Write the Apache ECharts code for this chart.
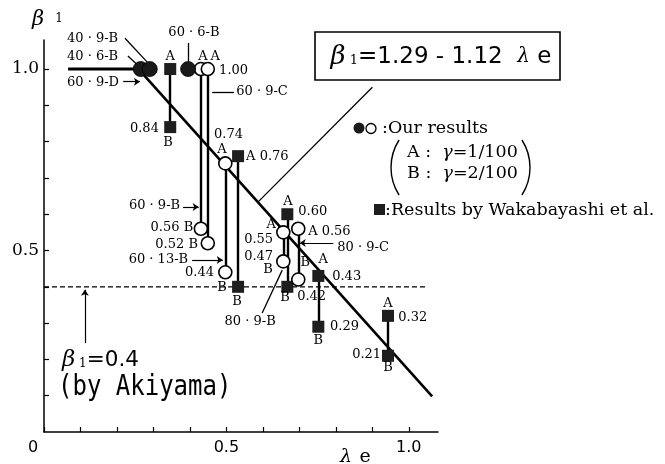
<!DOCTYPE html>
<html><head><meta charset="utf-8">
<script src="https://cdn.jsdelivr.net/npm/echarts@6/dist/echarts.min.js"></script>
<style>html,body{margin:0;padding:0;background:#fff}#c{width:665px;height:464px}</style>
</head><body><div id="c"></div>
<script>
const SERIF = '"DejaVu Serif", serif';
const SANS = '"DejaVu Sans", sans-serif';
const MONO = '"DejaVu Sans Mono", monospace';

// Axis ticks and labels
const xTickValues = [0, 0.1, 0.2, 0.3, 0.4, 0.5, 0.6, 0.7, 0.8, 0.9, 1.0];
const yTickValues = [0.1, 0.2, 0.3, 0.4, 0.5, 0.6, 0.7, 0.8, 0.9, 1.0];
const xLabelValues = [0, 0.5, 1.0];
const xLabelTexts = ['{z|0}', '0.5', '1.0'];
const yLabelValues = [0.5, 1.0];
const yLabelTexts = ['0.5', '1.0'];

// Our results, filled circles (40·9-B, 40·6-B, 60·6-B)
const filledLambda = [0.265, 0.29, 0.395];
const filledBeta = [1.00, 1.00, 1.00];

// Our results, open circles: A (γ=1/100) and B (γ=2/100)
// 60·9-B, 60·9-C, 60·13-B, 80·9-B, 80·9-C
const openLambda = [0.43, 0.449, 0.497, 0.656, 0.697];
const openBetaA = [1.00, 1.00, 0.74, 0.55, 0.56];
const openBetaB = [0.56, 0.52, 0.44, 0.47, 0.42];

// Results by Wakabayashi et al.: A and B
const wakaLambda = [0.346, 0.532, 0.667, 0.752, 0.943];
const wakaBetaA = [1.00, 0.76, 0.60, 0.43, 0.32];
const wakaBetaB = [0.84, 0.40, 0.40, 0.29, 0.21];

// Fitted line β1 = 1.29 - 1.12 λe
const fitIntercept = 1.29;
const fitSlope = -1.12;
const fitLambdaRange = [0.25, 1.064];

// Akiyama's value β1 = 0.4
const akiyamaBeta = 0.4;
const akiyamaRange = [0, 1.045];

// Thick segment at β1 = 1.0 (60·9-D)
const flatBeta = 1.0;
const flatRange = [0.066, 0.265];

// Leader lines for the specimen names
const plainLeaders = [
  [[0.222, 1.085], [0.283, 1.019]],
  [[0.230, 1.036], [0.258, 1.010]],
  [[0.395, 1.072], [0.395, 1.021]],
  [[0.461, 0.937], [0.521, 0.937]],
  [[0.598, 0.328], [0.653, 0.446]],
  [[0.587, 0.634], [0.900, 0.950]]
];
const arrowLeaders = [
  [[0.217, 0.965], [0.263, 0.965]],
  [[0.381, 0.620], [0.424, 0.620]],
  [[0.406, 0.474], [0.490, 0.474]],
  [[0.793, 0.521], [0.701, 0.521]],
  [[0.112, 0.245], [0.112, 0.392]]
];

// Text notes placed in data coordinates: [λe, β1, text, align]
const notes = [
  [0.063, 1.085, '40 · 9-B', 'left'],
  [0.063, 1.033, '40 · 6-B', 'left'],
  [0.063, 0.963, '60 · 9-D', 'left'],
  [0.346, 1.033, 'A', 'center'],
  [0.411, 1.099, '60 · 6-B', 'center'],
  [0.436, 1.033, 'A', 'center'],
  [0.469, 1.033, 'A', 'center'],
  [0.480, 0.997, '1.00', 'left'],
  [0.527, 0.937, '60 · 9-C', 'left'],
  [0.315, 0.837, '0.84', 'right'],
  [0.340, 0.796, 'B', 'center'],
  [0.466, 0.818, '0.74', 'left'],
  [0.488, 0.777, 'A', 'center'],
  [0.554, 0.758, 'A 0.76', 'left'],
  [0.373, 0.623, '60 · 9-B', 'right'],
  [0.409, 0.562, '0.56 B', 'right'],
  [0.422, 0.515, '0.52 B', 'right'],
  [0.395, 0.474, '60 · 13-B', 'right'],
  [0.466, 0.438, '0.44', 'right'],
  [0.488, 0.399, 'B', 'center'],
  [0.529, 0.358, 'B', 'center'],
  [0.669, 0.636, 'A', 'center'],
  [0.697, 0.606, '0.60', 'left'],
  [0.623, 0.570, 'A', 'center'],
  [0.628, 0.529, '0.55', 'right'],
  [0.724, 0.551, 'A 0.56', 'left'],
  [0.804, 0.507, '80 · 9-C', 'left'],
  [0.628, 0.482, '0.47', 'right'],
  [0.614, 0.446, 'B', 'center'],
  [0.716, 0.468, 'B', 'center'],
  [0.765, 0.474, 'A', 'center'],
  [0.790, 0.427, '0.43', 'left'],
  [0.661, 0.369, 'B', 'center'],
  [0.694, 0.372, '0.42', 'left'],
  [0.784, 0.289, '0.29', 'left'],
  [0.752, 0.251, 'B', 'center'],
  [0.943, 0.355, 'A', 'center'],
  [0.971, 0.314, '0.32', 'left'],
  [0.924, 0.212, '0.21', 'right'],
  [0.943, 0.176, 'B', 'center'],
  [0.565, 0.303, '80 · 9-B', 'center']
];

const chart = echarts.init(document.getElementById('c'));

const pairCoords = (xs, a, b) => xs.map((x, i) => ({ coords: [[x, a[i]], [x, b[i]]] }));
const pts = (xs, ys) => xs.map((x, i) => [x, ys[i]]);
const labelOf = (vals, texts) => v => {
  const i = vals.findIndex(t => Math.abs(t - v) < 1e-6);
  return i < 0 ? '' : texts[i];
};

const option = {
  animation: false,
  backgroundColor: '#fff',
  grid: { left: 44, top: 40, right: 227, bottom: 32 },
  xAxis: {
    type: 'value', min: 0, max: 1.08,
    axisLine: { lineStyle: { color: '#000', width: 1.5 } },
    axisTick: { inside: true, length: 5, customValues: xTickValues, lineStyle: { color: '#000', width: 1.2 } },
    axisLabel: {
      customValues: xLabelValues, formatter: labelOf(xLabelValues, xLabelTexts),
      color: '#000', fontFamily: SANS, fontSize: 16, margin: 8,
      rich: { z: { fontFamily: SANS, fontSize: 16, color: '#000', padding: [0, 22, 0, 0] } }
    },
    splitLine: { show: false }
  },
  yAxis: {
    type: 'value', min: 0, max: 1.08,
    axisLine: { lineStyle: { color: '#000', width: 1.5 } },
    axisTick: { inside: true, length: 5, customValues: yTickValues, lineStyle: { color: '#000', width: 1.2 } },
    axisLabel: { customValues: yLabelValues, formatter: labelOf(yLabelValues, yLabelTexts), color: '#000', fontFamily: SERIF, fontSize: 17, margin: 5 },
    splitLine: { show: false }
  },
  series: [
    {
      type: 'line', symbol: 'none', z: 1,
      data: [[akiyamaRange[0], akiyamaBeta], [akiyamaRange[1], akiyamaBeta]],
      lineStyle: { color: '#000', width: 1.2, type: [5, 3] }
    },
    {
      type: 'line', symbol: 'none', z: 2,
      data: [[flatRange[0], flatBeta], [flatRange[1], flatBeta]],
      lineStyle: { color: '#000', width: 3 }
    },
    {
      type: 'line', symbol: 'none', z: 2,
      data: fitLambdaRange.map(x => [x, +(fitIntercept + fitSlope * x).toFixed(4)]),
      lineStyle: { color: '#000', width: 2.6 }
    },
    {
      type: 'lines', coordinateSystem: 'cartesian2d', z: 2, clip: false,
      data: pairCoords(openLambda, openBetaA, openBetaB).concat(pairCoords(wakaLambda, wakaBetaA, wakaBetaB)),
      lineStyle: { color: '#000', width: 2.4, opacity: 1 }
    },
    {
      type: 'lines', coordinateSystem: 'cartesian2d', z: 2, clip: false,
      data: plainLeaders.map(c => ({ coords: c })),
      lineStyle: { color: '#000', width: 1.3, opacity: 1 }
    },
    {
      type: 'lines', coordinateSystem: 'cartesian2d', z: 2, clip: false,
      symbol: ['none', 'arrow'], symbolSize: 6,
      data: arrowLeaders.map(c => ({ coords: c })),
      lineStyle: { color: '#000', width: 1.2, opacity: 1 }
    },
    {
      type: 'scatter', z: 5, clip: false, symbol: 'rect', symbolSize: 12,
      data: pts(wakaLambda, wakaBetaA).concat(pts(wakaLambda, wakaBetaB)),
      itemStyle: { color: '#1e1e1e', opacity: 1 }
    },
    {
      type: 'scatter', z: 5, clip: false, symbol: 'circle', symbolSize: 13,
      data: pts(openLambda, openBetaA).concat(pts(openLambda, openBetaB)),
      itemStyle: { color: '#fff', borderColor: '#000', borderWidth: 1.6, opacity: 1 }
    },
    {
      type: 'scatter', z: 6, clip: false, symbol: 'circle', symbolSize: 15,
      data: pts(filledLambda, filledBeta),
      itemStyle: { color: '#1a1a1a', borderColor: '#000', borderWidth: 0.8, opacity: 1 }
    }
  ]
};
chart.setOption(option);

// Notes follow the axes through convertToPixel
const noteGraphics = notes.map(([x, y, text, align]) => {
  const p = chart.convertToPixel({ gridIndex: 0 }, [x, y]);
  return {
    type: 'text', x: p[0], y: p[1], z: 10,
    style: { text, fill: '#000', font: '13px ' + SERIF, align, verticalAlign: 'middle' }
  };
});

const legendRich = {
  n: { fontFamily: SERIF, fontSize: 17.5, fill: '#000' },
  g: { fontFamily: SERIF, fontStyle: 'italic', fontSize: 17.5, fill: '#000' }
};
const PAREN_R = 51, PAREN_HALF = Math.asin(27.5 / PAREN_R);

const fixedGraphics = [
  // axis titles
  { type: 'text', x: 38, y: 20, style: { text: 'β', fill: '#000', font: 'italic 21px ' + SERIF, align: 'center', verticalAlign: 'middle' } },
  { type: 'text', x: 59, y: 19, style: { text: '1', fill: '#000', font: '12px ' + SERIF, align: 'center', verticalAlign: 'middle' } },
  { type: 'text', x: 346, y: 457, style: { text: 'λ', fill: '#000', font: 'italic 19px ' + SERIF, align: 'center', verticalAlign: 'middle' } },
  { type: 'text', x: 365, y: 457, style: { text: 'e', fill: '#000', font: '19px ' + SERIF, align: 'center', verticalAlign: 'middle' } },
  // formula box
  { type: 'rect', z: 8, shape: { x: 315, y: 32, width: 245, height: 48 }, style: { fill: '#fff', stroke: '#000', lineWidth: 1.6 } },
  {
    type: 'text', x: 441, y: 57, z: 9,
    style: {
      text: '{b|β}{s| 1}{t|=1.29 - 1.12  }{l|λ}{t| e}', align: 'center', verticalAlign: 'middle', fill: '#000',
      rich: {
        b: { fontFamily: SERIF, fontStyle: 'italic', fontSize: 26, fill: '#000' },
        s: { fontFamily: SERIF, fontSize: 13, fill: '#000', padding: [8, 0, 0, 0] },
        t: { fontFamily: SANS, fontSize: 23, fill: '#000' },
        l: { fontFamily: SERIF, fontStyle: 'italic', fontSize: 20, fill: '#000' }
      }
    }
  },
  // legend
  { type: 'circle', shape: { cx: 359, cy: 128, r: 5.5 }, style: { fill: '#1a1a1a' } },
  { type: 'circle', shape: { cx: 371, cy: 128.5, r: 5 }, style: { fill: '#fff', stroke: '#000', lineWidth: 1.3 } },
  { type: 'text', x: 382, y: 128, style: { text: ':Our results', fill: '#000', font: '17.5px ' + SERIF, align: 'left', verticalAlign: 'middle' } },
  { type: 'arc', shape: { cx: 391 + PAREN_R, cy: 167.5, r: PAREN_R, startAngle: Math.PI - PAREN_HALF, endAngle: Math.PI + PAREN_HALF, clockwise: true }, style: { stroke: '#000', lineWidth: 1.4, fill: null } },
  { type: 'arc', shape: { cx: 530 - PAREN_R, cy: 167.5, r: PAREN_R, startAngle: -PAREN_HALF, endAngle: PAREN_HALF, clockwise: true }, style: { stroke: '#000', lineWidth: 1.4, fill: null } },
  { type: 'text', x: 407, y: 152, style: { text: '{n|A :  }{g|γ}{n|=1/100}', align: 'left', verticalAlign: 'middle', rich: legendRich } },
  { type: 'text', x: 407, y: 173, style: { text: '{n|B :  }{g|γ}{n|=2/100}', align: 'left', verticalAlign: 'middle', rich: legendRich } },
  { type: 'rect', shape: { x: 374, y: 204, width: 11, height: 11 }, style: { fill: '#1e1e1e' } },
  { type: 'text', x: 385, y: 210, style: { text: ':Results by Wakabayashi et al.', fill: '#000', font: '17.5px ' + SERIF, align: 'left', verticalAlign: 'middle' } },
  // Akiyama note
  {
    type: 'text', x: 62, y: 360,
    style: {
      text: '{b|β}{s| 1}{t|=0.4}', align: 'left', verticalAlign: 'middle',
      rich: {
        b: { fontFamily: SERIF, fontStyle: 'italic', fontSize: 23, fill: '#000' },
        s: { fontFamily: SERIF, fontSize: 12, fill: '#000', padding: [7, 0, 0, 0] },
        t: { fontFamily: SANS, fontSize: 21.5, fill: '#000' }
      }
    }
  },
  { type: 'text', x: 58, y: 388, scaleY: 1.15, style: { text: '(by Akiyama)', fill: '#000', font: '24px ' + MONO, align: 'left', verticalAlign: 'middle' } }
];

chart.setOption({ graphic: fixedGraphics.concat(noteGraphics) });
</script></body></html>
